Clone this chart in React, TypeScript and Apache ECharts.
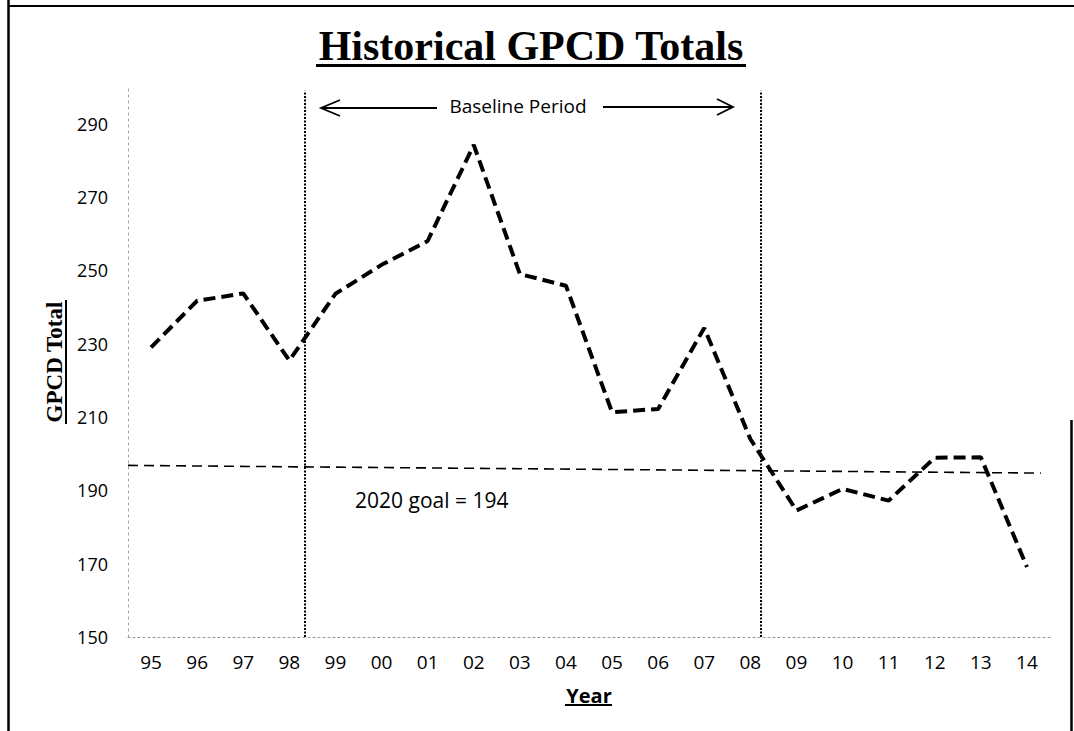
import React, { useEffect, useRef } from "react";
import * as echarts from "echarts";

const years = ["95", "96", "97", "98", "99", "00", "01", "02", "03", "04", "05", "06", "07", "08", "09", "10", "11", "12", "13", "14"];
const gpcd = [229, 241.7, 243.7, 225.4, 243.6, 251.5, 258, 284.2, 249, 245.8, 211.3, 212.2, 234.3, 204, 184.5, 190.4, 187.2, 198.9, 199, 169.1];
const yTickLabels = [150, 170, 190, 210, 230, 250, 270, 290];
const baselineBounds = [3.33, 13.22];
const goalLineStart = [-0.5, 196.8];
const goalLineEnd = [19.3, 194.7];
const goalLabel = "2020 goal = 194";
const titleText = "Historical GPCD Totals";
const yTitle = "GPCD Total";
const xTitle = "Year";
const periodLabel = "Baseline Period";

export default function App() {
  const ref = useRef<HTMLDivElement>(null);
  useEffect(() => {
    if (!ref.current) return;
    const chart = echarts.init(ref.current, null, { renderer: "svg" });
    const sans = "'Open Sans', sans-serif";
    const serif = "'Liberation Serif', 'Times New Roman', serif";
    chart.setOption({
      animation: false,
      backgroundColor: "#fff",
      grid: { left: 128, right: 24, top: 87, bottom: 94, containLabel: false },
      xAxis: [
        {
          type: "category",
          data: years,
          boundaryGap: true,
          axisLine: { show: true, onZero: false, lineStyle: { color: "#9a9a9a", width: 1, type: [2, 3] } },
          axisTick: { show: false },
          axisLabel: { color: "#000", fontSize: 19, fontFamily: sans, margin: 15 },
          splitLine: { show: false },
        },
        { type: "value", min: -0.5, max: 19.5, show: false },
      ],
      yAxis: {
        type: "value",
        min: 150,
        max: 300,
        interval: 10,
        axisLine: { show: true, onZero: false, lineStyle: { color: "#a0a0a0", width: 1, type: [2, 4] } },
        axisTick: { show: false },
        splitLine: { show: false },
        axisLabel: {
          color: "#000",
          fontSize: 18,
          fontFamily: sans,
          margin: 20,
          formatter: (v: number) => (yTickLabels.includes(v) ? String(v) : ""),
        },
      },
      series: [
        {
          type: "line",
          data: gpcd,
          symbol: "none",
          lineStyle: { color: "#000", width: 4, type: [12, 6] },
          z: 5,
        },
        {
          type: "line",
          xAxisIndex: 1,
          data: [],
          symbol: "none",
          markLine: {
            silent: true,
            symbol: "none",
            label: { show: false },
            data: [
              [
                { coord: [baselineBounds[0], 150], lineStyle: { color: "#000", width: 2, type: [2, 1.5] } },
                { coord: [baselineBounds[0], 299] },
              ],
              [
                { coord: [baselineBounds[1], 150], lineStyle: { color: "#000", width: 2, type: [2, 1.5] } },
                { coord: [baselineBounds[1], 299] },
              ],
              [
                { coord: goalLineStart, lineStyle: { color: "#000", width: 1.6, type: [10, 6] } },
                { coord: goalLineEnd },
              ],
            ],
          },
        },
      ],
      graphic: [
        { type: "line", shape: { x1: 8.5, y1: 0, x2: 8.5, y2: 731 }, style: { stroke: "#000", lineWidth: 2.5 } },
        { type: "line", shape: { x1: 8, y1: 6, x2: 1074, y2: 6 }, style: { stroke: "#000", lineWidth: 2 } },
        { type: "line", shape: { x1: 1071.5, y1: 420, x2: 1071.5, y2: 731 }, style: { stroke: "#000", lineWidth: 2.5 } },
        {
          type: "text",
          x: 531,
          y: 46,
          style: { text: titleText, font: `bold 42px ${serif}`, fill: "#000", textAlign: "center", textVerticalAlign: "middle" },
        },
        { type: "rect", shape: { x: 316, y: 64, width: 430, height: 3 }, style: { fill: "#000" } },
        {
          type: "text",
          x: 54,
          y: 362,
          rotation: Math.PI / 2,
          style: { text: yTitle, font: `bold 23px ${serif}`, fill: "#000", textAlign: "center", textVerticalAlign: "middle" },
        },
        { type: "rect", shape: { x: 65, y: 300, width: 2, height: 124 }, style: { fill: "#000" } },
        {
          type: "text",
          x: 589,
          y: 695,
          style: { text: xTitle, font: `bold 20px ${sans}`, fill: "#000", textAlign: "center", textVerticalAlign: "middle" },
        },
        { type: "rect", shape: { x: 565, y: 704, width: 47, height: 2 }, style: { fill: "#000" } },
        {
          type: "text",
          x: 518,
          y: 106,
          style: { text: periodLabel, font: `19px ${sans}`, fill: "#000", textAlign: "center", textVerticalAlign: "middle" },
        },
        { type: "line", shape: { x1: 321, y1: 108, x2: 437, y2: 108 }, style: { stroke: "#000", lineWidth: 1.8 } },
        { type: "polyline", shape: { points: [[340, 100], [321, 108], [340, 116]] }, style: { stroke: "#000", lineWidth: 1.8, fill: "none" } },
        { type: "line", shape: { x1: 603, y1: 107, x2: 733, y2: 107 }, style: { stroke: "#000", lineWidth: 1.8 } },
        { type: "polyline", shape: { points: [[717, 99], [733, 107], [717, 115]] }, style: { stroke: "#000", lineWidth: 1.8, fill: "none" } },
        {
          type: "text",
          x: 355,
          y: 500,
          style: { text: goalLabel, font: `21px ${sans}`, fill: "#000", textAlign: "left", textVerticalAlign: "middle" },
        },
      ],
    });
    return () => chart.dispose();
  }, []);
  return (
    <div
      ref={ref}
      style={{ position: "absolute", left: 0, top: 0, width: 1074, height: 731, background: "#fff" }}
    />
  );
}
